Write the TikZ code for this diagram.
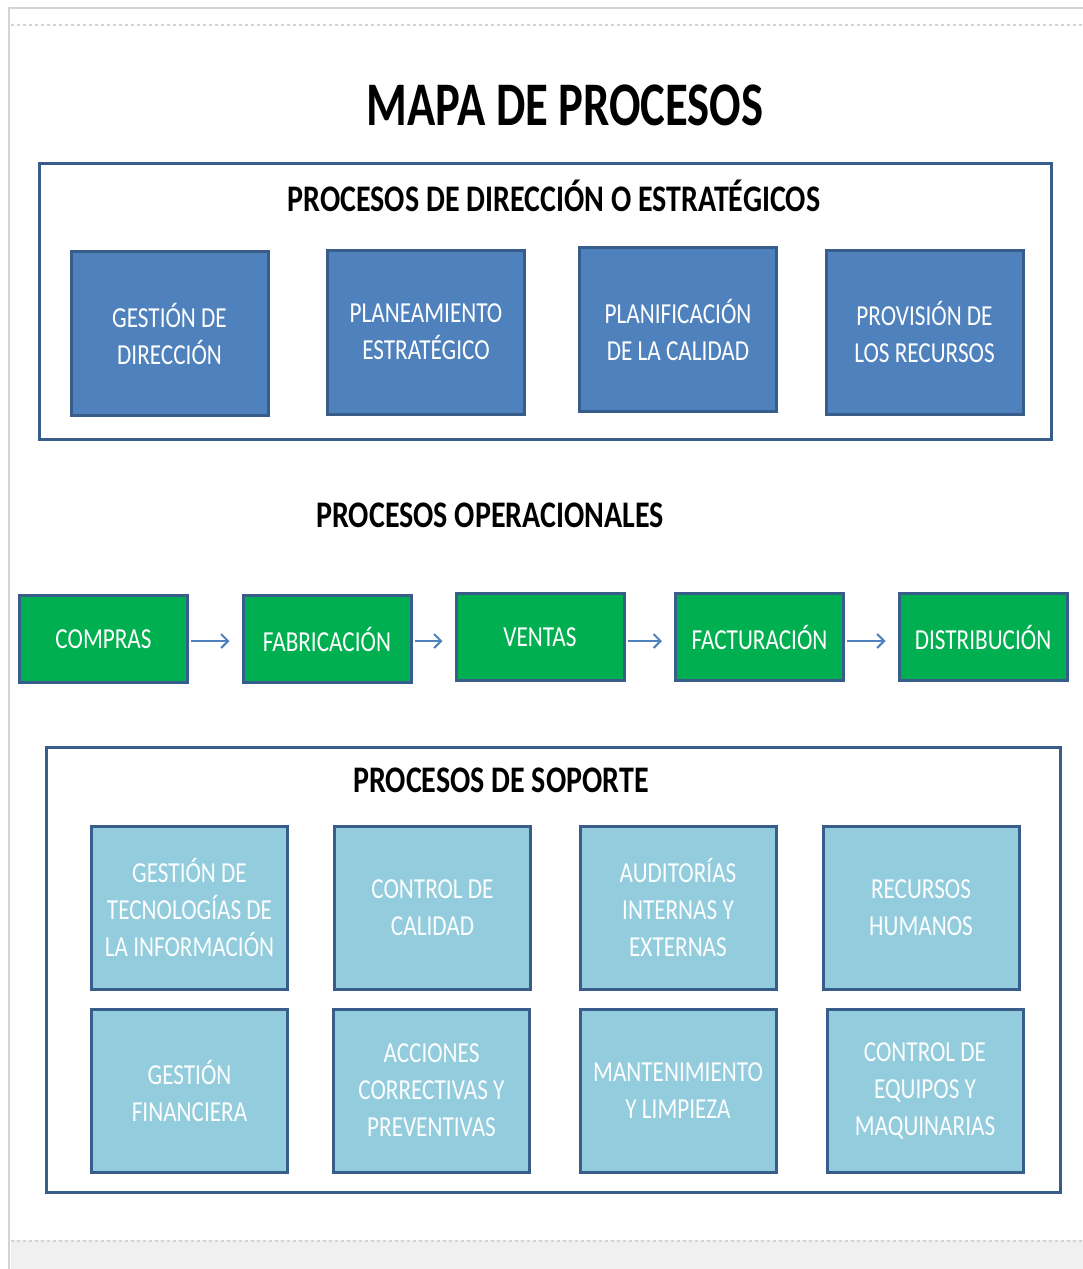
\documentclass[tikz,border=0pt]{standalone}
\usepackage{fontspec}
\setmainfont[FakeStretch=0.8]{Carlito}
\usetikzlibrary{positioning,arrows.meta}

\definecolor{edgeblue}{HTML}{385D8A}
\definecolor{dirblue}{HTML}{4F81BD}
\definecolor{opgreen}{HTML}{00B050}
\definecolor{supblue}{HTML}{93CDDD}
\definecolor{pagegray}{HTML}{D4D4D4}

\tikzset{
  procbox/.style={draw=edgeblue, line width=3pt, align=center, text=white,
    font=\fontsize{29}{37}\selectfont, inner sep=0pt},
  dirbox/.style={procbox, fill=dirblue, minimum width=197pt, minimum height=164pt},
  opbox/.style={procbox, fill=opgreen, minimum width=168pt, minimum height=87pt},
  supbox/.style={procbox, fill=supblue, text=white!96!supblue,
    minimum width=196pt, minimum height=163pt},
  frame/.style={draw=edgeblue, line width=3pt},
  heading/.style={font=\bfseries\fontsize{37.5}{44}\selectfont},
  flow/.style={draw=dirblue, line width=2pt, -{Straight Barb[length=7pt,width=14pt]},
    shorten <=2pt, shorten >=12pt}
}

\begin{document}
\begin{tikzpicture}[x=1pt, y=-1pt]
    \useasboundingbox (0,0) rectangle (1083,1269);

    % page
    \fill[gray!12] (11,1240) rectangle (1083,1269);
    \draw[pagegray, dashed, line width=1.5pt] (11,1241) -- (1083,1241);
    \draw[pagegray, line width=2pt] (1083,8) -- (9,8) -- (9,1269);
    \draw[pagegray, dashed, line width=1.5pt] (11,25) -- (1083,25);

    \node[font=\bfseries\fontsize{62}{70}\selectfont] (title) at (565,105)
      {\scalebox{0.94}[1]{MAPA DE PROCESOS}};

    % direccion
    \draw[frame] (39.5,163.5) rectangle (1051.5,439.5);
    \node[heading] (dirhead) at (554,196) {PROCESOS DE DIRECCIÓN O ESTRATÉGICOS};
    \node[dirbox] (gestdir) at (169.5,333.5) {GESTIÓN DE\\DIRECCIÓN};
    \node[dirbox] (planest) at (426,332) {PLANEAMIENTO\\ESTRATÉGICO};
    \node[dirbox] (plancal) at (678,329.5) {PLANIFICACIÓN\\DE LA CALIDAD};
    \node[dirbox] (provrec) at (924.5,332) {PROVISIÓN DE\\LOS RECURSOS};

    % operacionales
    \node[heading] (ophead) at (490,515) {PROCESOS OPERACIONALES};
    \node[opbox] (compras) at (103.5,639) {COMPRAS};
    \node[opbox] (fabric) at (327,639) {FABRICACIÓN};
    \node[opbox] (ventas) at (540,637) {VENTAS};
    \node[opbox] (factur) at (759.5,637) {FACTURACIÓN};
    \node[opbox] (distrib) at (983,637) {DISTRIBUCIÓN};

    \draw[flow] (compras.east) ++(0,2) -- (fabric.west |- 0,641);
    \draw[flow] (fabric.east) ++(0,2) -- (ventas.west |- 0,641);
    \draw[flow] (ventas.east) ++(0,4) -- (factur.west |- 0,641);
    \draw[flow] (factur.east) ++(0,4) -- (distrib.west |- 0,641);

    % soporte
    \draw[frame] (46.5,747.5) rectangle (1060.5,1192.5);
    \node[heading] (suphead) at (501,780) {PROCESOS DE SOPORTE};
    \node[supbox] (gestti) at (189.5,907.5) {GESTIÓN DE\\TECNOLOGÍAS DE\\LA INFORMACIÓN};
    \node[supbox] (ctrlcal) at (432.5,907.5) {CONTROL DE\\CALIDAD};
    \node[supbox] (audit) at (678,907.5) {AUDITORÍAS\\INTERNAS Y\\EXTERNAS};
    \node[supbox] (rrhh) at (921,907.5) {RECURSOS\\HUMANOS};
    \node[supbox] (gestfin) at (189.5,1090.5) {GESTIÓN\\FINANCIERA};
    \node[supbox] (acciones) at (431.5,1090.5) {ACCIONES\\CORRECTIVAS Y\\PREVENTIVAS};
    \node[supbox] (manten) at (678,1090.5) {MANTENIMIENTO\\Y LIMPIEZA};
    \node[supbox] (ctrlequip) at (925,1090.5) {CONTROL DE\\EQUIPOS Y\\MAQUINARIAS};
\end{tikzpicture}
\end{document}
